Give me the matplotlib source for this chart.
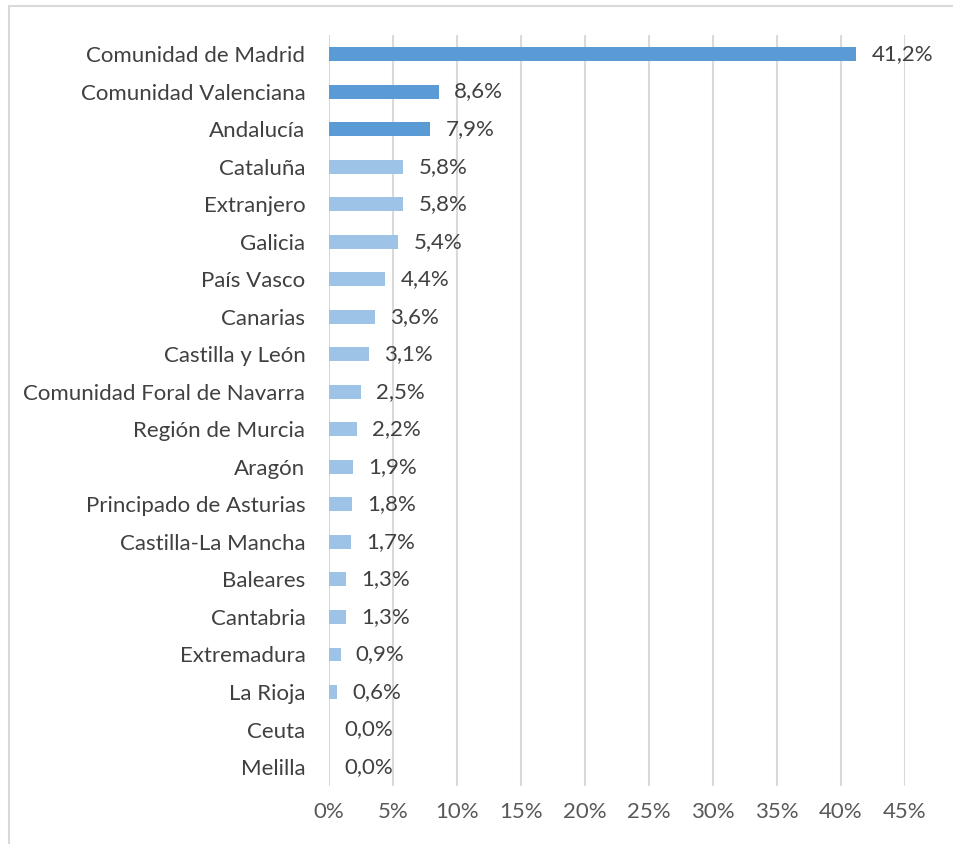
import matplotlib
matplotlib.use("Agg")
import matplotlib.pyplot as plt
from matplotlib.patches import Rectangle

categories = ["Comunidad de Madrid", "Comunidad Valenciana", "Andalucía", "Cataluña",
              "Extranjero", "Galicia", "País Vasco", "Canarias", "Castilla y León",
              "Comunidad Foral de Navarra", "Región de Murcia", "Aragón",
              "Principado de Asturias", "Castilla-La Mancha", "Baleares", "Cantabria",
              "Extremadura", "La Rioja", "Ceuta", "Melilla"]
values = [41.2, 8.6, 7.9, 5.8, 5.8, 5.4, 4.4, 3.6, 3.1, 2.5, 2.2, 1.9, 1.8, 1.7,
          1.3, 1.3, 0.9, 0.6, 0.0, 0.0]
xticks = [0, 5, 10, 15, 20, 25, 30, 35, 40, 45]
xtick_labels = [f"{t}%" for t in xticks]

dark = "#5B9BD5"
light = "#9DC3E6"
colors = [dark if i < 3 else light for i in range(len(values))]

plt.rcParams['font.family'] = ['Lato', 'DejaVu Sans']
FS = 16

W, H = 954, 844
fig = plt.figure(figsize=(W/100, H/100), dpi=100)
ax = fig.add_axes([329/W, 1-785.8/H, (905-329)/W, (785.8-35.3)/H])

y = list(range(len(values)))
ax.barh(y, values, height=0.37, color=colors, zorder=3)
ax.set_ylim(len(values)-0.5, -0.5)
ax.set_xlim(0, 45)
ax.set_yticks(y)
ax.set_yticklabels(categories, fontsize=FS, color="#404040")
ax.set_xticks(xticks)
ax.set_xticklabels(xtick_labels, fontsize=FS, color="#595959")
ax.tick_params(axis='both', length=0)
ax.tick_params(axis='y', pad=17)
ax.tick_params(axis='x', pad=12)
for s in ax.spines.values():
    s.set_visible(False)
ax.grid(axis='x', color="#D9D9D9", linewidth=1.5, zorder=0)
ax.set_axisbelow(True)

for yi, v in zip(y, values):
    ax.annotate(f"{v:.1f}%".replace(".", ","), (v, yi), xytext=(11, 0),
                textcoords="offset points", va="center", ha="left",
                fontsize=FS, color="#404040")

fig.patches.append(Rectangle((9/W, -0.1), 1.2, 1 - 6/H + 0.1, transform=fig.transFigure,
                             fill=False, edgecolor="#D9D9D9", linewidth=1.5))

fig.savefig("out.png", dpi=100)
